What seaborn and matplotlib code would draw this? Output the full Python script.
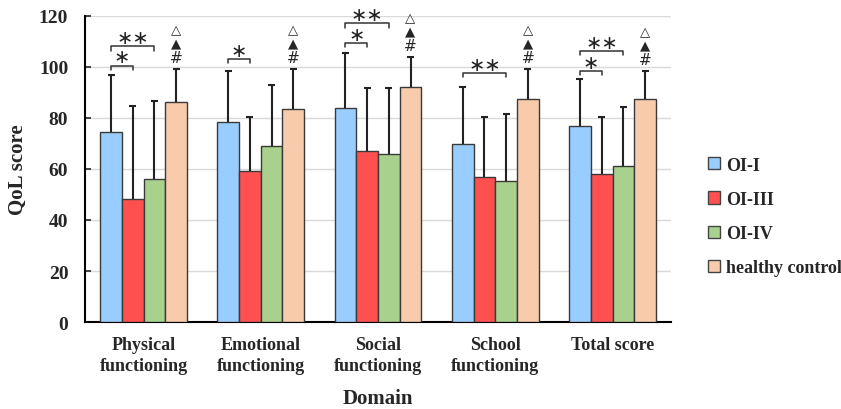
import numpy as np
import pandas as pd
import matplotlib
matplotlib.use("Agg")
import matplotlib.pyplot as plt
import seaborn as sns

domains = ["Physical\nfunctioning", "Emotional\nfunctioning", "Social\nfunctioning",
           "School\nfunctioning", "Total score"]
groups = ["OI-I", "OI-III", "OI-IV", "healthy control"]

mean_oi1 = [74.6, 78.3, 83.8, 69.8, 76.8]
mean_oi3 = [48.3, 59.3, 67.0, 57.0, 58.0]
mean_oi4 = [55.9, 68.8, 65.9, 55.4, 61.3]
mean_hc = [86.3, 83.3, 92.0, 87.6, 87.4]

sd_oi1 = [22.4, 20.0, 21.5, 22.5, 18.5]
sd_oi3 = [36.5, 21.1, 24.6, 23.5, 22.3]
sd_oi4 = [30.7, 23.9, 25.9, 26.3, 23.1]
sd_hc = [12.8, 15.9, 11.9, 11.6, 10.8]

# (domain index, group a, group b, bracket height, label)
brackets = [
    (0, 0, 1, 100.5, "*"), (0, 0, 2, 108.0, "**"),
    (1, 0, 1, 103.0, "*"),
    (2, 0, 1, 109.4, "*"), (2, 0, 2, 117.0, "**"),
    (3, 0, 2, 97.6, "**"),
    (4, 0, 1, 98.4, "*"), (4, 0, 2, 106.3, "**"),
]

colors = ["#99CCFF", "#FF5050", "#A9D18E", "#F8CBAD"]
means = [mean_oi1, mean_oi3, mean_oi4, mean_hc]
sds = [sd_oi1, sd_oi3, sd_oi4, sd_hc]

df = pd.DataFrame({
    "Domain": np.tile(domains, len(groups)),
    "Group": np.repeat(groups, len(domains)),
    "Score": np.concatenate(means),
})

sns.set_style("white")
plt.rcParams["font.family"] = ["Liberation Serif", "DejaVu Sans"]

fig = plt.figure(figsize=(8.41, 4.10), dpi=100)
ax = fig.add_axes([0.101, 0.212, 0.697, 0.747])

sns.barplot(data=df, x="Domain", y="Score", hue="Group", order=domains,
            hue_order=groups, palette=colors, saturation=1, width=0.74,
            errorbar=None, edgecolor="#3a3a3a", linewidth=1.0, ax=ax, zorder=3)

# upper-only error bars
centers = []
for gi, cont in enumerate(ax.containers):
    xs = [b.get_x() + b.get_width() / 2 for b in cont]
    centers.append(xs)
    tops = np.array(means[gi]) + np.array(sds[gi])
    ax.vlines(xs, means[gi], tops, color="#222222", lw=1.5, zorder=4)
    ax.hlines(tops, np.array(xs) - 0.03, np.array(xs) + 0.03, color="#222222", lw=1.5, zorder=4)

# markers above healthy-control bars
for di in range(len(domains)):
    x = centers[3][di]
    top = mean_hc[di] + sd_hc[di]
    ax.text(x, top + 4.5, "#", ha="center", va="center", fontsize=11, family="DejaVu Sans")
    ax.text(x, top + 10.3, "▲", ha="center", va="center", fontsize=9.5, family="DejaVu Sans")
    ax.text(x, top + 15.5, "△", ha="center", va="center", fontsize=9.5, family="DejaVu Sans")

# significance brackets
for di, a, b, h, lab in brackets:
    x1 = centers[a][di]
    x2 = centers[b][di]
    ax.plot([x1, x1, x2, x2], [h - 1.6, h, h, h - 1.6], color="#333333", lw=1.1, zorder=5)
    ax.text((x1 + x2) / 2, h - 0.3, lab.replace("*", "∗"), ha="center", va="bottom",
            fontsize=14, family="DejaVu Sans", color="#222222")

ax.set_ylim(0, 120)
ax.set_xlim(-0.5, 4.5)
ax.set_yticks(range(0, 121, 20))
ax.yaxis.grid(True, color="#d9d9d9", lw=1.0, zorder=0)
ax.set_axisbelow(True)
for s in ["top", "right"]:
    ax.spines[s].set_visible(False)
ax.spines["left"].set_color("black")
ax.spines["bottom"].set_color("black")
ax.spines["left"].set_linewidth(1.5)
ax.spines["bottom"].set_linewidth(1.5)
ax.tick_params(axis="y", direction="in", length=4, width=1.2, left=True, pad=12)
ax.tick_params(axis="x", length=0, pad=10)
for t in ax.get_yticklabels():
    t.set_fontweight("bold")
    t.set_fontsize(14)
for t in ax.get_xticklabels():
    t.set_fontweight("bold")
    t.set_fontsize(13)
    t.set_linespacing(1.3)
ax.set_ylabel("QoL score", fontsize=15, fontweight="bold", labelpad=8)
ax.set_xlabel("Domain", fontsize=15, fontweight="bold", labelpad=10)

leg = ax.legend(loc="center left", bbox_to_anchor=(1.035, 0.345), frameon=False,
                prop={"weight": "bold", "size": 13}, handlelength=0.65,
                handleheight=0.65, handletextpad=0.35, labelspacing=0.95)
for h in leg.legend_handles:
    h.set_edgecolor("#444444")
    h.set_linewidth(1.0)

fig.savefig("out.png", dpi=100)
